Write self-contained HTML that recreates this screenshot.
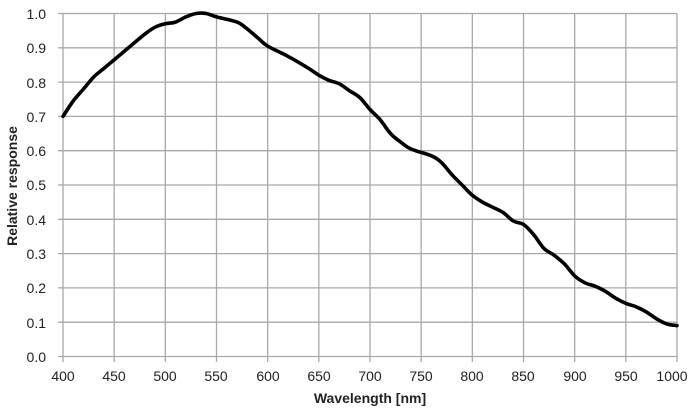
<!DOCTYPE html>
<html><head><meta charset="utf-8"><style>
body{margin:0;background:#fff;width:700px;height:411px;overflow:hidden}
svg{display:block}
text{font-family:"Liberation Sans",Arial,sans-serif;fill:#222}
</style></head><body>
<svg id="s" width="700" height="411" viewBox="0 0 700 411">
<g id="grid" stroke="#a8a8a8" stroke-width="1.3" fill="none"></g>
<path id="curve" fill="none" stroke="#000" stroke-width="3.6" stroke-linejoin="round" stroke-linecap="round"/>
<g font-size="14" text-anchor="end">
<text x="46" y="19">1.0</text><text x="46" y="53">0.9</text><text x="46" y="88">0.8</text>
<text x="46" y="122">0.7</text><text x="46" y="156">0.6</text><text x="46" y="190">0.5</text>
<text x="46" y="225">0.4</text><text x="46" y="259">0.3</text><text x="46" y="293">0.2</text>
<text x="46" y="328">0.1</text><text x="46" y="362">0.0</text>
</g>
<g font-size="14" text-anchor="middle">
<text x="63" y="381">400</text><text x="114" y="381">450</text><text x="165" y="381">500</text>
<text x="216" y="381">550</text><text x="268" y="381">600</text><text x="319" y="381">650</text>
<text x="370" y="381">700</text><text x="421" y="381">750</text><text x="472" y="381">800</text>
<text x="523" y="381">850</text><text x="575" y="381">900</text><text x="626" y="381">950</text>
<text x="672" y="381">1000</text>
</g>
<text x="370" y="403" font-size="14" font-weight="bold" text-anchor="middle">Wavelength [nm]</text>
<text transform="translate(17,186) rotate(-90)" font-size="14" font-weight="bold" text-anchor="middle">Relative response</text>
</svg>
<script>
var X=w=>63+(w-400)*614/600, Y=v=>356.5-v*343;
var g=document.getElementById('grid'),h='';
for(var i=0;i<=12;i++){var x=X(400+50*i);h+='<line x1="'+x+'" y1="13.5" x2="'+x+'" y2="362"/>';}
for(var j=0;j<=10;j++){var y=Y(j/10);h+='<line x1="58" y1="'+y+'" x2="677" y2="'+y+'"/>';}
g.innerHTML=h;
var d=[[400,.70],[410,.745],[420,.78],[430,.815],[440,.84],[460,.89],[480,.94],[490,.96],[500,.97],[510,.975],[520,.99],[530,1.0],[540,1.0],[550,.99],[570,.975],[580,.955],[590,.93],[600,.905],[620,.875],[640,.84],[650,.82],[660,.805],[670,.795],[680,.775],[690,.755],[700,.72],[710,.69],[720,.65],[730,.625],[740,.605],[760,.585],[770,.565],[780,.53],[790,.50],[800,.47],[810,.45],[820,.435],[830,.42],[840,.395],[850,.385],[860,.355],[870,.315],[880,.295],[890,.27],[900,.235],[910,.215],[920,.205],[930,.19],[940,.17],[950,.155],[960,.145],[970,.13],[980,.11],[990,.095],[1000,.09]];
var P=d.map(a=>[X(a[0]),Y(a[1])]);
var p='M'+P[0][0]+','+P[0][1];
for(var k=0;k<P.length-1;k++){
 var p0=P[Math.max(k-1,0)],p1=P[k],p2=P[k+1],p3=P[Math.min(k+2,P.length-1)];
 var c1=[p1[0]+(p2[0]-p0[0])/6,p1[1]+(p2[1]-p0[1])/6],c2=[p2[0]-(p3[0]-p1[0])/6,p2[1]-(p3[1]-p1[1])/6];
 p+='C'+c1[0].toFixed(1)+','+c1[1].toFixed(1)+' '+c2[0].toFixed(1)+','+c2[1].toFixed(1)+' '+p2[0].toFixed(1)+','+p2[1].toFixed(1);
}
document.getElementById('curve').setAttribute('d',p);
</script>
</body></html>
